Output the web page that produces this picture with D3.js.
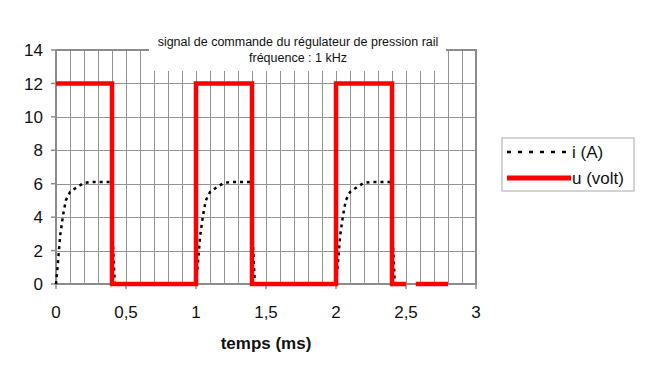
<!DOCTYPE html>
<html lang="fr">
<head>
  <meta charset="UTF-8">
  <script src="https://d3js.org/d3.v7.min.js"></script>
  <title>Signal de commande</title>
  <style>
    body { margin: 0; background: #fff; }
    text { font-family: Arial, "Liberation Sans", sans-serif; fill: #111; }
    .grid line { stroke: #949494; stroke-width: 1px; }
    .frame { fill: none; stroke: #8c8c8c; stroke-width: 2px; }
  </style>
</head>
<body>
<div id="chart"></div>
<script>
  // courant i (A) : temps (ms) / valeur
  const iTimes = [
    0, 0.01, 0.02, 0.03, 0.05, 0.07, 0.1, 0.15, 0.2, 0.25, 0.4, 0.405, 0.42,
    1, 1.01, 1.02, 1.03, 1.05, 1.07, 1.1, 1.15, 1.2, 1.25, 1.4, 1.405, 1.42,
    2, 2.01, 2.02, 2.03, 2.05, 2.07, 2.1, 2.15, 2.2, 2.25, 2.4, 2.405, 2.42
  ];
  const iValues = [
    0, 0.9, 1.9, 2.9, 4.1, 5.0, 5.5, 5.8, 6.05, 6.1, 6.1, 2.7, 0,
    0, 0.9, 1.9, 2.9, 4.1, 5.0, 5.5, 5.8, 6.05, 6.1, 6.1, 2.7, 0,
    0, 0.9, 1.9, 2.9, 4.1, 5.0, 5.5, 5.8, 6.05, 6.1, 6.1, 2.7, 0
  ];
  // tension u (volt) ; null = point manquant
  const uTimes = [0, 0.4, 0.4, 1, 1, 1.4, 1.4, 2, 2, 2.4, 2.4, 2.5, 2.54, 2.57, 2.8];
  const uValues = [12, 12, 0, 0, 12, 12, 0, 0, 12, 12, 0, 0, null, 0, 0];

  const yTicks = [0, 2, 4, 6, 8, 10, 12, 14];
  const xTicks = [0, 0.5, 1, 1.5, 2, 2.5, 3];
  const xTickLabels = ["0", "0,5", "1", "1,5", "2", "2,5", "3"];
  const titleLines = ["signal de commande du régulateur de pression rail", "fréquence : 1 kHz"];
  const xTitle = "temps (ms)";
  const legendLabels = ["i (A)", "u (volt)"];

  const width = 664, height = 376;
  const margin = { left: 56, right: 188, top: 50, bottom: 92 };
  const plotW = width - margin.left - margin.right;
  const plotH = height - margin.top - margin.bottom;

  const svg = d3.select("#chart").append("svg")
    .attr("width", width)
    .attr("height", height);

  const x = d3.scaleLinear().domain([0, 3]).range([margin.left, margin.left + plotW]);
  const y = d3.scaleLinear().domain([0, 14]).range([margin.top + plotH, margin.top]);

  // grille
  const grid = svg.append("g").attr("class", "grid");
  grid.selectAll(".v")
    .data(d3.range(1, 30).map(k => k / 10))
    .enter().append("line")
    .attr("x1", d => Math.round(x(d)) + 0.5).attr("x2", d => Math.round(x(d)) + 0.5)
    .attr("y1", y(14)).attr("y2", y(0));
  grid.selectAll(".h")
    .data(yTicks.slice(1))
    .enter().append("line")
    .attr("x1", x(0)).attr("x2", x(3))
    .attr("y1", d => Math.round(y(d)) + 0.5).attr("y2", d => Math.round(y(d)) + 0.5);

  // cadre
  svg.append("rect").attr("class", "frame")
    .attr("x", x(0)).attr("y", y(14))
    .attr("width", plotW).attr("height", plotH);

  // graduations
  svg.append("g").selectAll("line")
    .data(yTicks).enter().append("line")
    .attr("x1", x(0) - 5).attr("x2", x(0))
    .attr("y1", d => y(d)).attr("y2", d => y(d))
    .attr("stroke", "#8c8c8c").attr("stroke-width", 1.5);
  svg.append("g").selectAll("line")
    .data(xTicks).enter().append("line")
    .attr("x1", d => x(d)).attr("x2", d => x(d))
    .attr("y1", y(0)).attr("y2", y(0) + 5)
    .attr("stroke", "#8c8c8c").attr("stroke-width", 1.5);

  svg.append("g").selectAll("text")
    .data(yTicks).enter().append("text")
    .attr("x", x(0) - 13)
    .attr("y", d => y(d))
    .attr("dy", "0.36em")
    .attr("text-anchor", "end")
    .style("font-size", "17px")
    .text(d => d);
  svg.append("g").selectAll("text")
    .data(xTicks).enter().append("text")
    .attr("x", d => x(d))
    .attr("y", y(0) + 34)
    .attr("text-anchor", "middle")
    .style("font-size", "17px")
    .text((d, i) => xTickLabels[i]);

  svg.append("text")
    .attr("x", 266).attr("y", 349)
    .attr("text-anchor", "middle")
    .style("font-size", "17px")
    .style("font-weight", "bold")
    .text(xTitle);

  // titre (fond blanc sur la grille)
  svg.append("rect")
    .attr("x", 149).attr("y", 30)
    .attr("width", 297).attr("height", 41)
    .attr("fill", "#fff");
  svg.append("g").selectAll("text")
    .data(titleLines).enter().append("text")
    .attr("x", 298)
    .attr("y", (d, i) => 46 + i * 16)
    .attr("text-anchor", "middle")
    .style("font-size", "12.5px")
    .text(d => d);

  // courbes
  const iData = iTimes.map((t, k) => ({ t, v: iValues[k] }));
  const uData = uTimes.map((t, k) => ({ t, v: uValues[k] }));
  const line = d3.line()
    .defined(d => d.v !== null)
    .x(d => x(d.t))
    .y(d => y(d.v));

  svg.append("path")
    .datum(iData)
    .attr("d", line)
    .attr("fill", "none")
    .attr("stroke", "#000")
    .attr("stroke-width", 2.5)
    .attr("stroke-dasharray", "3,4");

  svg.append("path")
    .datum(uData)
    .attr("d", line)
    .attr("fill", "none")
    .attr("stroke", "#ff0000")
    .attr("stroke-width", 4.5)
    .attr("stroke-linejoin", "miter");

  // légende
  const lg = svg.append("g").attr("transform", "translate(502,138)");
  lg.append("rect")
    .attr("width", 132).attr("height", 53)
    .attr("fill", "#fff")
    .attr("stroke", "#a8a8a8")
    .attr("stroke-width", 1);
  lg.append("line")
    .attr("x1", 5).attr("x2", 69).attr("y1", 14).attr("y2", 14)
    .attr("stroke", "#000").attr("stroke-width", 2.5)
    .attr("stroke-dasharray", "4,7");
  lg.append("line")
    .attr("x1", 5).attr("x2", 69).attr("y1", 40).attr("y2", 40)
    .attr("stroke", "#ff0000").attr("stroke-width", 5);
  lg.selectAll("text")
    .data(legendLabels).enter().append("text")
    .attr("x", 70)
    .attr("y", (d, i) => 14 + i * 26)
    .attr("dy", "0.36em")
    .style("font-size", "17px")
    .text(d => d);
</script>
</body>
</html>
